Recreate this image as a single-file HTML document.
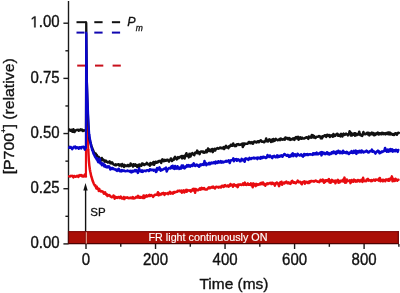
<!DOCTYPE html>
<html><head><meta charset="utf-8"><style>
html,body{margin:0;padding:0;background:#fff;}
svg{display:block;filter:blur(0.3px);}
text{font-family:"Liberation Sans",sans-serif;fill:#111;stroke:#111;stroke-width:0.35px;}
</style></head><body>
<svg width="400" height="293" viewBox="0 0 400 293">
<rect width="400" height="293" fill="#fff"/>
<g stroke="#1a1a1a" stroke-width="1.4" fill="none">
<line x1="68.5" y1="1.0" x2="68.5" y2="243.9"/>
<line x1="63.4" y1="243.90" x2="68.5" y2="243.90"/><line x1="63.4" y1="188.73" x2="68.5" y2="188.73"/><line x1="63.4" y1="133.55" x2="68.5" y2="133.55"/><line x1="63.4" y1="78.38" x2="68.5" y2="78.38"/><line x1="63.4" y1="23.20" x2="68.5" y2="23.20"/><line x1="65.4" y1="216.31" x2="68.5" y2="216.31"/><line x1="65.4" y1="161.14" x2="68.5" y2="161.14"/><line x1="65.4" y1="105.96" x2="68.5" y2="105.96"/><line x1="65.4" y1="50.79" x2="68.5" y2="50.79"/>
<line x1="86.00" y1="243.9" x2="86.00" y2="249"/><line x1="155.53" y1="243.9" x2="155.53" y2="249"/><line x1="225.05" y1="243.9" x2="225.05" y2="249"/><line x1="294.58" y1="243.9" x2="294.58" y2="249"/><line x1="364.10" y1="243.9" x2="364.10" y2="249"/><line x1="120.76" y1="243.9" x2="120.76" y2="246.8"/><line x1="190.29" y1="243.9" x2="190.29" y2="246.8"/><line x1="259.81" y1="243.9" x2="259.81" y2="246.8"/><line x1="329.34" y1="243.9" x2="329.34" y2="246.8"/><line x1="398.87" y1="243.9" x2="398.87" y2="246.8"/>
</g>
<rect x="68" y="231.2" width="330.87" height="12.40" fill="#aa0f07"/>
<line x1="68" y1="231.7" x2="398.87" y2="231.7" stroke="#7a0808" stroke-width="1"/>
<line x1="68" y1="243.6" x2="398.87" y2="243.6" stroke="#4a0202" stroke-width="1.4"/>
<line x1="68.5" y1="231.2" x2="68.5" y2="243.9" stroke="#5a0606" stroke-width="1.2"/>
<line x1="398.27" y1="231.2" x2="398.27" y2="243.9" stroke="#6a0606" stroke-width="1.2"/>
<line x1="85.4" y1="232.2" x2="85.4" y2="243.6" stroke="#7a0808" stroke-width="0.8"/>
<line x1="86.3" y1="232.2" x2="86.3" y2="243.6" stroke="#f0c8b8" stroke-width="0.9"/>
<text x="208" y="240.8" text-anchor="middle" style="font-size:10.75px;fill:#fff;stroke:#fff;stroke-width:0.15px">FR light continuously ON</text>
<line x1="85.6" y1="231.2" x2="85.6" y2="189" stroke="#111" stroke-width="1.4"/>
<path d="M85.5,183 L83.3,190.5 L87.7,190.5 Z" fill="#111"/>
<text x="90.3" y="215.5" style="font-size:11.5px;stroke-width:0.3px">SP</text>
<line x1="77.2" y1="65.6" x2="85.2" y2="65.6" stroke="#c8101c" stroke-width="2"/><line x1="95.0" y1="65.6" x2="103.3" y2="65.6" stroke="#c8101c" stroke-width="2"/><line x1="112.60000000000001" y1="65.6" x2="120.8" y2="65.6" stroke="#c8101c" stroke-width="2"/>
<line x1="76.5" y1="22.2" x2="86.4" y2="22.2" stroke="#111" stroke-width="2"/><line x1="94.3" y1="22.2" x2="102.6" y2="22.2" stroke="#111" stroke-width="2"/><line x1="111.9" y1="22.2" x2="120.1" y2="22.2" stroke="#111" stroke-width="2"/>
<line x1="76.5" y1="32.6" x2="84.5" y2="32.6" stroke="#1006b0" stroke-width="2"/><line x1="94.3" y1="32.6" x2="102.6" y2="32.6" stroke="#1006b0" stroke-width="2"/><line x1="111.9" y1="32.6" x2="120.1" y2="32.6" stroke="#1006b0" stroke-width="2"/>
<g fill="none" stroke-width="2.5" stroke-linejoin="round" stroke-linecap="round">
<polyline points="69.20,176.40 69.80,176.61 70.40,176.21 71.00,175.78 71.60,176.08 72.20,175.71 72.80,176.44 73.40,177.34 74.00,176.06 74.60,175.97 75.20,176.74 75.80,176.65 76.40,176.47 77.00,175.75 77.60,176.38 78.20,176.89 78.80,175.46 79.40,176.08 80.00,175.07 80.60,175.50 81.20,175.11 81.80,176.24 82.40,175.51 83.00,176.59 83.60,176.51 84.20,176.27 84.80,174.64 85.40,176.02 85.90,176.40" stroke="#e80c10"/><polyline points="88.30,150.00 88.80,160.02 89.30,165.33 89.80,169.17 90.30,171.84 90.80,174.16 91.30,176.50 91.80,177.83 92.30,179.62 92.80,181.33 93.30,182.39 93.80,183.68 94.30,184.70 94.80,185.48 95.30,185.25 95.80,186.77 96.30,188.22 96.80,186.70 97.30,188.85 97.80,188.76 98.30,188.64 98.80,190.88 99.30,189.03 99.80,190.65 100.30,191.11 100.90,191.54 101.50,191.01 102.10,191.56 102.70,191.43 103.30,192.49 103.90,193.78 104.50,192.77 105.10,192.26 105.70,193.92 106.30,194.81 106.90,194.40 107.50,196.04 108.10,195.06 108.70,195.45 109.30,195.00 109.90,195.66 110.50,196.59 111.10,196.76 111.70,197.18 112.30,197.00 112.90,196.97 113.50,195.44 114.10,196.36 114.70,198.68 115.30,196.78 115.90,197.67 116.50,197.27 117.10,197.87 117.70,197.53 118.30,196.91 118.90,197.11 119.50,197.90 120.10,197.39 120.70,196.45 121.30,198.14 121.90,198.51 122.50,198.48 123.10,198.53 123.70,196.94 124.30,199.06 124.90,197.89 125.50,197.42 126.10,197.75 126.70,197.59 127.30,197.27 127.90,198.07 128.50,198.20 129.10,197.97 129.70,198.21 130.30,197.99 130.90,197.62 131.50,197.69 132.10,198.36 132.70,197.06 133.30,197.58 133.90,198.48 134.50,197.95 135.10,198.14 135.70,197.65 136.30,196.82 136.90,197.23 137.50,197.49 138.10,195.85 138.70,197.37 139.30,197.76 139.90,196.82 140.50,197.81 141.10,196.98 141.70,197.56 142.30,197.59 142.90,197.94 143.50,195.42 144.10,198.06 144.70,195.88 145.30,197.18 145.90,196.53 146.50,195.31 147.10,196.57 147.70,196.14 148.30,195.63 148.90,196.04 149.50,194.92 150.10,195.94 150.70,195.20 151.30,195.10 151.90,195.83 152.50,195.83 153.10,196.89 153.70,195.98 154.30,195.23 154.90,194.80 155.50,194.94 156.10,194.68 156.70,194.75 157.30,194.17 157.90,192.27 158.50,195.37 159.10,193.52 159.70,195.04 160.30,194.19 160.90,194.10 161.50,194.38 162.10,193.19 162.70,193.37 163.30,192.89 163.90,193.70 164.50,194.85 165.10,193.25 165.70,193.77 166.30,193.62 166.90,193.43 167.50,193.12 168.10,194.07 168.70,193.16 169.30,192.70 169.90,191.74 170.50,193.61 171.10,193.32 171.70,192.91 172.30,192.53 172.90,193.63 173.50,192.44 174.10,191.94 174.70,192.64 175.30,191.95 175.90,192.05 176.50,191.73 177.10,191.76 177.70,190.71 178.30,191.13 178.90,191.11 179.50,190.60 180.10,191.27 180.70,191.55 181.30,190.65 181.90,192.68 182.50,191.06 183.10,191.36 183.70,190.30 184.30,192.46 184.90,191.33 185.50,190.74 186.10,189.87 186.70,191.79 187.30,190.04 187.90,190.28 188.50,190.42 189.10,190.71 189.70,190.41 190.30,190.31 190.90,191.61 191.50,190.26 192.10,190.43 192.70,189.10 193.30,190.51 193.90,188.74 194.50,189.39 195.10,192.81 195.70,188.90 196.30,189.52 196.90,189.66 197.50,190.28 198.10,190.19 198.70,189.72 199.30,189.01 199.90,188.30 200.50,189.70 201.10,189.22 201.70,187.78 202.30,189.05 202.90,188.59 203.50,188.93 204.10,188.06 204.70,188.96 205.30,189.51 205.90,189.43 206.50,189.43 207.10,189.46 207.70,188.39 208.30,187.94 208.90,187.26 209.50,188.30 210.10,187.64 210.70,187.88 211.30,187.26 211.90,187.05 212.50,187.66 213.10,186.54 213.70,187.08 214.30,188.06 214.90,188.43 215.50,187.58 216.10,186.71 216.70,187.05 217.30,187.06 217.90,186.95 218.50,187.62 219.10,186.86 219.70,187.29 220.30,187.10 220.90,187.49 221.50,185.90 222.10,185.82 222.70,186.00 223.30,186.93 223.90,186.78 224.50,185.30 225.10,185.10 225.70,186.12 226.30,186.27 226.90,186.29 227.50,185.48 228.10,185.45 228.70,186.63 229.30,185.39 229.90,185.76 230.50,183.98 231.10,185.14 231.70,185.08 232.30,184.72 232.90,186.68 233.50,185.36 234.10,184.25 234.70,185.48 235.30,185.37 235.90,185.33 236.50,186.21 237.10,185.15 237.70,187.12 238.30,184.40 238.90,185.01 239.50,184.91 240.10,184.33 240.70,184.57 241.30,184.91 241.90,184.93 242.50,184.41 243.10,183.36 243.70,184.89 244.30,184.45 244.90,182.65 245.50,184.75 246.10,184.83 246.70,184.93 247.30,184.30 247.90,183.42 248.50,184.73 249.10,184.80 249.70,184.33 250.30,184.79 250.90,183.41 251.50,185.27 252.10,184.60 252.70,187.19 253.30,183.36 253.90,183.94 254.50,184.11 255.10,185.58 255.70,186.19 256.30,183.84 256.90,184.59 257.50,184.99 258.10,184.23 258.70,184.66 259.30,184.51 259.90,184.46 260.50,183.03 261.10,184.10 261.70,182.91 262.30,183.63 262.90,182.43 263.50,184.58 264.10,183.48 264.70,184.37 265.30,185.74 265.90,184.52 266.50,183.88 267.10,183.24 267.70,184.20 268.30,183.40 268.90,183.61 269.50,183.41 270.10,182.72 270.70,183.23 271.30,184.07 271.90,182.67 272.50,182.82 273.10,183.99 273.70,183.58 274.30,183.93 274.90,185.63 275.50,183.31 276.10,183.62 276.70,182.48 277.30,182.86 277.90,183.23 278.50,184.68 279.10,186.16 279.70,184.09 280.30,182.30 280.90,183.27 281.50,181.77 282.10,184.71 282.70,183.29 283.30,183.18 283.90,182.54 284.50,183.55 285.10,182.21 285.70,182.54 286.30,181.54 286.90,182.36 287.50,183.27 288.10,183.07 288.70,182.38 289.30,183.37 289.90,182.97 290.50,183.83 291.10,182.87 291.70,181.04 292.30,180.78 292.90,182.20 293.50,182.68 294.10,182.18 294.70,182.16 295.30,183.25 295.90,183.16 296.50,182.39 297.10,181.74 297.70,180.64 298.30,181.28 298.90,182.25 299.50,182.26 300.10,181.87 300.70,182.26 301.30,183.64 301.90,184.26 302.50,182.17 303.10,181.98 303.70,181.84 304.30,181.36 304.90,183.68 305.50,181.88 306.10,182.51 306.70,181.83 307.30,182.12 307.90,182.98 308.50,181.91 309.10,182.86 309.70,181.30 310.30,182.20 310.90,181.01 311.50,181.19 312.10,180.97 312.70,181.31 313.30,181.08 313.90,181.71 314.50,181.32 315.10,180.89 315.70,180.54 316.30,180.90 316.90,181.29 317.50,181.78 318.10,181.52 318.70,181.69 319.30,182.09 319.90,181.48 320.50,179.91 321.10,180.94 321.70,179.96 322.30,181.23 322.90,179.63 323.50,181.03 324.10,182.78 324.70,180.44 325.30,181.92 325.90,180.17 326.50,180.30 327.10,180.02 327.70,180.99 328.30,180.16 328.90,179.15 329.50,182.42 330.10,180.56 330.70,182.68 331.30,181.50 331.90,179.91 332.50,180.56 333.10,181.74 333.70,180.77 334.30,181.57 334.90,180.81 335.50,183.35 336.10,180.62 336.70,180.95 337.30,181.12 337.90,179.87 338.50,182.66 339.10,181.04 339.70,182.37 340.30,180.70 340.90,181.44 341.50,181.04 342.10,180.87 342.70,179.76 343.30,181.52 343.90,180.53 344.50,177.62 345.10,182.75 345.70,180.52 346.30,182.46 346.90,179.55 347.50,180.65 348.10,180.85 348.70,180.92 349.30,180.70 349.90,180.20 350.50,183.14 351.10,181.55 351.70,180.02 352.30,180.90 352.90,181.66 353.50,181.66 354.10,179.64 354.70,180.51 355.30,180.27 355.90,181.62 356.50,180.92 357.10,181.44 357.70,180.08 358.30,180.59 358.90,180.03 359.50,181.48 360.10,181.27 360.70,181.00 361.30,179.75 361.90,180.17 362.50,181.92 363.10,177.82 363.70,180.33 364.30,180.94 364.90,181.24 365.50,180.87 366.10,181.13 366.70,179.49 367.30,179.44 367.90,178.84 368.50,180.62 369.10,180.04 369.70,180.15 370.30,180.61 370.90,181.25 371.50,180.13 372.10,180.93 372.70,180.41 373.30,180.29 373.90,179.59 374.50,180.26 375.10,180.75 375.70,179.56 376.30,179.93 376.90,179.61 377.50,179.64 378.10,180.15 378.70,180.60 379.30,178.28 379.90,178.01 380.50,181.19 381.10,180.36 381.70,180.05 382.30,179.73 382.90,181.31 383.50,179.88 384.10,180.28 384.70,180.49 385.30,181.28 385.90,179.49 386.50,179.44 387.10,179.51 387.70,179.84 388.30,180.74 388.90,178.97 389.50,180.61 390.10,179.12 390.70,178.28 391.30,178.36 391.90,176.38 392.50,181.35 393.10,178.70 393.70,180.72 394.30,180.44 394.90,180.99 395.50,178.74 396.10,179.50 396.70,179.94 397.30,180.70 397.90,179.70 398.50,179.82" stroke="#e80c10"/><polyline points="85.90,176.40 86.15,65.20 86.50,66.20 87.00,100.00 87.60,130.00 88.30,150.00" stroke="#e80c10" stroke-width="2.1" stroke-linecap="butt"/>
<polyline points="69.20,129.56 69.80,129.75 70.40,130.75 71.00,130.44 71.60,129.72 72.20,131.63 72.80,131.82 73.40,129.18 74.00,130.41 74.60,131.96 75.20,130.75 75.80,130.35 76.40,130.05 77.00,129.82 77.60,130.05 78.20,129.81 78.80,130.72 79.40,129.92 80.00,129.89 80.60,129.36 81.20,130.17 81.80,129.57 82.40,130.07 83.00,130.93 83.60,130.46 84.20,130.55 84.80,130.45 85.40,130.24 85.90,130.20" stroke="#111"/><polyline points="89.20,138.00 89.70,139.85 90.20,141.86 90.70,143.22 91.20,145.40 91.70,146.67 92.20,147.88 92.70,149.26 93.20,150.49 93.70,151.85 94.20,152.72 94.70,154.00 95.20,154.30 95.70,153.49 96.20,155.13 96.70,154.75 97.20,156.61 97.70,157.81 98.20,157.93 98.70,156.91 99.20,157.66 99.70,159.76 100.20,158.82 100.70,160.82 101.20,159.46 101.80,158.01 102.40,159.26 103.00,160.24 103.60,159.83 104.20,160.55 104.80,161.65 105.40,160.60 106.00,160.79 106.60,161.74 107.20,161.71 107.80,162.57 108.40,162.29 109.00,161.88 109.60,161.35 110.20,163.21 110.80,162.66 111.40,163.38 112.00,162.24 112.60,163.11 113.20,164.03 113.80,164.65 114.40,164.81 115.00,165.10 115.60,164.33 116.20,165.13 116.80,164.80 117.40,164.49 118.00,164.43 118.60,164.28 119.20,165.58 119.80,164.94 120.40,164.43 121.00,164.86 121.60,166.28 122.20,164.03 122.80,165.51 123.40,165.27 124.00,166.95 124.60,164.90 125.20,165.60 125.80,166.01 126.40,166.12 127.00,166.08 127.60,164.92 128.20,164.94 128.80,166.21 129.40,165.35 130.00,165.94 130.60,163.48 131.20,164.87 131.80,165.32 132.40,164.83 133.00,166.57 133.60,164.27 134.20,165.41 134.80,165.64 135.40,164.41 136.00,165.57 136.60,165.23 137.20,166.94 137.80,165.90 138.40,164.81 139.00,167.49 139.60,164.45 140.20,165.19 140.80,165.04 141.40,165.76 142.00,163.61 142.60,163.59 143.20,163.94 143.80,164.88 144.40,165.10 145.00,164.18 145.60,164.37 146.20,164.15 146.80,162.89 147.40,163.37 148.00,164.50 148.60,164.37 149.20,164.51 149.80,165.78 150.40,163.02 151.00,164.54 151.60,163.54 152.20,164.27 152.80,163.19 153.40,161.93 154.00,164.85 154.60,163.73 155.20,162.04 155.80,161.74 156.40,162.67 157.00,162.64 157.60,161.69 158.20,162.13 158.80,161.04 159.40,161.48 160.00,160.74 160.60,161.68 161.20,162.82 161.80,160.81 162.40,159.35 163.00,160.21 163.60,161.12 164.20,159.80 164.80,161.00 165.40,160.05 166.00,160.78 166.60,160.03 167.20,159.72 167.80,159.80 168.40,160.97 169.00,161.57 169.60,160.28 170.20,160.17 170.80,158.54 171.40,158.72 172.00,161.07 172.60,160.23 173.20,159.86 173.80,159.78 174.40,157.72 175.00,156.88 175.60,158.36 176.20,158.04 176.80,159.37 177.40,157.85 178.00,157.19 178.60,158.23 179.20,157.26 179.80,157.39 180.40,156.64 181.00,156.40 181.60,156.01 182.20,158.39 182.80,156.09 183.40,157.58 184.00,156.06 184.60,158.49 185.20,155.59 185.80,154.64 186.40,153.25 187.00,155.87 187.60,154.83 188.20,155.77 188.80,157.39 189.40,153.88 190.00,154.32 190.60,156.47 191.20,153.73 191.80,154.14 192.40,153.08 193.00,154.28 193.60,154.63 194.20,155.27 194.80,153.64 195.40,152.42 196.00,152.48 196.60,152.94 197.20,150.59 197.80,153.15 198.40,151.91 199.00,152.34 199.60,154.14 200.20,152.14 200.80,151.44 201.40,151.42 202.00,151.55 202.60,152.24 203.20,151.48 203.80,152.68 204.40,152.68 205.00,152.38 205.60,151.75 206.20,150.30 206.80,152.26 207.40,151.51 208.00,148.41 208.60,150.35 209.20,150.80 209.80,149.58 210.40,151.32 211.00,150.13 211.60,150.67 212.20,148.96 212.80,152.13 213.40,150.63 214.00,149.70 214.60,148.79 215.20,150.55 215.80,149.06 216.40,148.89 217.00,148.41 217.60,148.02 218.20,148.69 218.80,148.61 219.40,148.15 220.00,147.51 220.60,147.78 221.20,148.26 221.80,147.84 222.40,148.42 223.00,147.65 223.60,147.07 224.20,149.01 224.80,147.70 225.40,146.64 226.00,145.79 226.60,147.46 227.20,147.04 227.80,147.12 228.40,148.07 229.00,146.17 229.60,146.61 230.20,146.26 230.80,144.69 231.40,145.79 232.00,144.71 232.60,145.76 233.20,143.47 233.80,145.42 234.40,144.97 235.00,146.14 235.60,145.05 236.20,145.92 236.80,144.47 237.40,144.18 238.00,144.26 238.60,144.12 239.20,144.95 239.80,144.66 240.40,144.70 241.00,144.32 241.60,144.47 242.20,143.59 242.80,147.01 243.40,143.40 244.00,145.42 244.60,143.43 245.20,143.60 245.80,143.75 246.40,143.68 247.00,143.64 247.60,143.82 248.20,143.10 248.80,141.95 249.40,142.94 250.00,142.13 250.60,143.14 251.20,142.60 251.80,142.19 252.40,143.53 253.00,143.69 253.60,142.23 254.20,141.44 254.80,141.49 255.40,142.09 256.00,142.31 256.60,142.51 257.20,141.63 257.80,141.21 258.40,141.24 259.00,142.28 259.60,141.10 260.20,141.08 260.80,140.22 261.40,141.23 262.00,141.74 262.60,141.67 263.20,141.45 263.80,142.15 264.40,142.22 265.00,141.20 265.60,140.86 266.20,138.42 266.80,141.11 267.40,140.78 268.00,141.52 268.60,140.24 269.20,139.35 269.80,140.40 270.40,139.85 271.00,142.00 271.60,139.87 272.20,139.58 272.80,141.44 273.40,138.96 274.00,140.88 274.60,140.84 275.20,139.85 275.80,138.91 276.40,139.37 277.00,139.82 277.60,140.27 278.20,139.98 278.80,139.84 279.40,139.17 280.00,140.16 280.60,138.61 281.20,138.80 281.80,139.34 282.40,139.70 283.00,139.44 283.60,139.42 284.20,138.66 284.80,139.64 285.40,137.43 286.00,138.39 286.60,137.88 287.20,138.01 287.80,139.04 288.40,139.27 289.00,137.96 289.60,138.62 290.20,139.93 290.80,138.77 291.40,139.56 292.00,139.24 292.60,139.29 293.20,138.22 293.80,138.67 294.40,139.98 295.00,137.81 295.60,137.52 296.20,137.01 296.80,138.40 297.40,137.55 298.00,136.77 298.60,139.77 299.20,138.53 299.80,137.62 300.40,137.21 301.00,138.75 301.60,138.67 302.20,137.69 302.80,138.57 303.40,138.59 304.00,138.60 304.60,138.21 305.20,137.94 305.80,137.78 306.40,137.21 307.00,137.45 307.60,137.42 308.20,138.86 308.80,136.49 309.40,137.12 310.00,137.44 310.60,136.56 311.20,137.68 311.80,135.02 312.40,137.12 313.00,135.46 313.60,137.43 314.20,136.07 314.80,137.15 315.40,137.91 316.00,137.45 316.60,136.80 317.20,136.80 317.80,136.85 318.40,136.52 319.00,136.05 319.60,136.59 320.20,136.48 320.80,138.29 321.40,136.88 322.00,138.35 322.60,136.31 323.20,136.60 323.80,136.26 324.40,135.44 325.00,135.28 325.60,135.81 326.20,136.85 326.80,135.01 327.40,134.70 328.00,135.77 328.60,135.20 329.20,135.08 329.80,137.00 330.40,135.52 331.00,135.99 331.60,135.37 332.20,136.05 332.80,136.75 333.40,133.98 334.00,135.54 334.60,136.10 335.20,135.92 335.80,134.50 336.40,134.54 337.00,133.67 337.60,133.90 338.20,135.79 338.80,134.89 339.40,135.64 340.00,134.94 340.60,136.41 341.20,133.89 341.80,135.46 342.40,136.42 343.00,134.33 343.60,133.66 344.20,134.90 344.80,134.83 345.40,134.15 346.00,133.62 346.60,134.39 347.20,134.55 347.80,135.37 348.40,134.23 349.00,133.97 349.60,131.24 350.20,132.37 350.80,135.58 351.40,133.07 352.00,135.45 352.60,134.85 353.20,134.04 353.80,134.56 354.40,133.21 355.00,135.69 355.60,133.34 356.20,133.94 356.80,135.20 357.40,134.06 358.00,134.58 358.60,134.53 359.20,131.65 359.80,134.01 360.40,135.14 361.00,134.83 361.60,135.61 362.20,135.93 362.80,134.05 363.40,132.05 364.00,134.22 364.60,133.53 365.20,134.19 365.80,134.20 366.40,133.48 367.00,132.81 367.60,132.80 368.20,134.46 368.80,132.89 369.40,135.37 370.00,133.56 370.60,134.07 371.20,133.24 371.80,132.61 372.40,134.37 373.00,132.99 373.60,133.49 374.20,135.24 374.80,133.52 375.40,134.90 376.00,134.39 376.60,133.20 377.20,133.47 377.80,132.50 378.40,134.48 379.00,134.43 379.60,133.32 380.20,133.20 380.80,134.05 381.40,134.27 382.00,132.70 382.60,133.61 383.20,134.07 383.80,133.04 384.40,134.01 385.00,133.43 385.60,134.33 386.20,132.95 386.80,133.18 387.40,133.96 388.00,132.54 388.60,132.58 389.20,134.41 389.80,132.58 390.40,133.00 391.00,134.40 391.60,133.81 392.20,133.89 392.80,134.73 393.40,134.15 394.00,134.97 394.60,134.52 395.20,133.15 395.80,133.26 396.40,133.83 397.00,134.65 397.60,133.18 398.20,132.71 398.80,132.92" stroke="#111"/><polyline points="85.90,130.20 86.15,22.20 86.35,23.20 86.90,80.00 87.60,105.00 88.40,125.00 89.20,138.00" stroke="#111" stroke-width="2.1" stroke-linecap="butt"/>
<polyline points="69.20,147.68 69.80,146.81 70.40,147.61 71.00,147.17 71.60,147.91 72.20,149.11 72.80,148.24 73.40,147.58 74.00,146.66 74.60,146.81 75.20,146.62 75.80,148.31 76.40,147.26 77.00,147.84 77.60,147.36 78.20,147.86 78.80,148.78 79.40,147.32 80.00,147.56 80.60,147.24 81.20,148.41 81.80,147.08 82.40,147.01 83.00,146.83 83.60,146.81 84.20,148.13 84.80,149.60 85.40,147.10 85.90,147.80" stroke="#0a06cc"/><polyline points="89.30,135.00 89.80,138.80 90.30,141.43 90.80,144.13 91.30,146.36 91.80,148.18 92.30,150.37 92.80,151.07 93.30,152.94 93.80,154.18 94.30,155.09 94.80,156.20 95.30,157.16 95.80,157.82 96.30,158.69 96.80,159.51 97.30,158.19 97.80,161.19 98.30,162.26 98.80,161.83 99.30,162.31 99.80,159.10 100.30,163.42 100.80,163.51 101.30,163.11 101.90,165.25 102.50,163.51 103.10,163.54 103.70,164.18 104.30,166.57 104.90,164.94 105.50,166.53 106.10,167.14 106.70,166.51 107.30,167.31 107.90,166.36 108.50,167.12 109.10,166.42 109.70,167.23 110.30,169.48 110.90,169.14 111.50,168.45 112.10,167.94 112.70,168.96 113.30,168.33 113.90,169.06 114.50,169.41 115.10,169.66 115.70,169.26 116.30,170.39 116.90,170.90 117.50,169.84 118.10,170.35 118.70,168.75 119.30,169.60 119.90,171.19 120.50,171.14 121.10,171.41 121.70,170.12 122.30,170.21 122.90,170.92 123.50,170.47 124.10,170.57 124.70,171.03 125.30,171.18 125.90,171.24 126.50,170.96 127.10,170.74 127.70,170.50 128.30,171.16 128.90,171.01 129.50,171.08 130.10,171.78 130.70,170.72 131.30,172.35 131.90,170.97 132.50,171.92 133.10,170.86 133.70,171.39 134.30,170.96 134.90,170.12 135.50,171.30 136.10,170.17 136.70,170.73 137.30,171.56 137.90,172.88 138.50,170.45 139.10,168.42 139.70,170.69 140.30,171.22 140.90,170.91 141.50,171.75 142.10,170.40 142.70,171.83 143.30,171.20 143.90,170.78 144.50,170.69 145.10,170.98 145.70,171.19 146.30,170.36 146.90,170.24 147.50,170.33 148.10,170.22 148.70,171.10 149.30,170.92 149.90,169.26 150.50,170.02 151.10,169.52 151.70,170.15 152.30,169.98 152.90,169.71 153.50,170.60 154.10,169.82 154.70,170.20 155.30,169.84 155.90,172.04 156.50,171.66 157.10,168.02 157.70,169.25 158.30,169.49 158.90,169.44 159.50,167.40 160.10,169.29 160.70,170.75 161.30,169.49 161.90,169.94 162.50,169.92 163.10,169.27 163.70,169.24 164.30,168.42 164.90,168.44 165.50,168.90 166.10,167.63 166.70,171.52 167.30,170.01 167.90,169.37 168.50,168.89 169.10,168.04 169.70,167.91 170.30,168.37 170.90,167.66 171.50,166.38 172.10,167.90 172.70,165.73 173.30,168.19 173.90,168.61 174.50,168.84 175.10,166.07 175.70,168.59 176.30,168.48 176.90,168.67 177.50,166.27 178.10,167.72 178.70,167.43 179.30,168.95 179.90,167.50 180.50,167.69 181.10,168.57 181.70,165.56 182.30,166.80 182.90,165.45 183.50,168.03 184.10,167.59 184.70,168.32 185.30,166.46 185.90,166.87 186.50,166.91 187.10,165.07 187.70,166.00 188.30,166.40 188.90,165.13 189.50,165.63 190.10,166.70 190.70,166.17 191.30,164.99 191.90,165.00 192.50,165.90 193.10,164.56 193.70,163.29 194.30,164.76 194.90,165.76 195.50,165.98 196.10,164.88 196.70,164.49 197.30,164.82 197.90,165.91 198.50,165.91 199.10,166.78 199.70,164.81 200.30,165.48 200.90,164.28 201.50,165.13 202.10,164.92 202.70,164.07 203.30,163.72 203.90,164.92 204.50,161.02 205.10,164.36 205.70,162.90 206.30,165.18 206.90,164.03 207.50,164.26 208.10,163.53 208.70,164.25 209.30,162.81 209.90,164.33 210.50,163.06 211.10,163.49 211.70,162.46 212.30,163.15 212.90,163.32 213.50,162.79 214.10,161.99 214.70,163.18 215.30,163.53 215.90,161.61 216.50,162.87 217.10,162.87 217.70,162.89 218.30,161.17 218.90,162.33 219.50,162.38 220.10,162.08 220.70,161.06 221.30,162.68 221.90,161.94 222.50,161.61 223.10,162.49 223.70,161.69 224.30,162.00 224.90,161.73 225.50,161.50 226.10,160.72 226.70,161.66 227.30,161.42 227.90,161.28 228.50,160.31 229.10,160.63 229.70,163.00 230.30,161.25 230.90,160.25 231.50,160.29 232.10,160.15 232.70,159.87 233.30,158.37 233.90,161.20 234.50,160.19 235.10,159.37 235.70,159.40 236.30,158.96 236.90,160.74 237.50,159.82 238.10,159.38 238.70,159.70 239.30,160.31 239.90,161.26 240.50,161.26 241.10,160.23 241.70,158.81 242.30,160.16 242.90,160.45 243.50,159.65 244.10,159.91 244.70,161.84 245.30,158.66 245.90,158.36 246.50,159.01 247.10,158.82 247.70,158.90 248.30,160.02 248.90,159.04 249.50,157.86 250.10,158.55 250.70,159.08 251.30,158.92 251.90,158.00 252.50,158.28 253.10,158.12 253.70,157.65 254.30,158.39 254.90,157.94 255.50,158.18 256.10,158.30 256.70,157.74 257.30,159.12 257.90,157.52 258.50,158.12 259.10,157.82 259.70,157.96 260.30,158.77 260.90,157.09 261.50,158.26 262.10,156.97 262.70,158.01 263.30,156.75 263.90,157.38 264.50,157.02 265.10,157.15 265.70,158.04 266.30,158.07 266.90,157.29 267.50,155.02 268.10,156.43 268.70,156.17 269.30,157.04 269.90,155.51 270.50,156.36 271.10,156.53 271.70,157.50 272.30,158.07 272.90,156.29 273.50,156.45 274.10,155.74 274.70,156.57 275.30,157.34 275.90,157.22 276.50,156.40 277.10,155.43 277.70,157.24 278.30,156.72 278.90,155.86 279.50,156.73 280.10,155.81 280.70,156.30 281.30,155.26 281.90,155.97 282.50,156.76 283.10,155.61 283.70,154.87 284.30,154.00 284.90,154.20 285.50,154.91 286.10,155.31 286.70,155.84 287.30,155.62 287.90,154.91 288.50,155.40 289.10,156.92 289.70,155.51 290.30,156.55 290.90,156.25 291.50,154.64 292.10,153.94 292.70,153.25 293.30,156.13 293.90,154.85 294.50,154.35 295.10,154.16 295.70,155.61 296.30,156.31 296.90,155.67 297.50,153.77 298.10,154.26 298.70,154.83 299.30,155.43 299.90,155.41 300.50,155.30 301.10,154.32 301.70,155.06 302.30,156.11 302.90,156.61 303.50,155.61 304.10,153.97 304.70,155.49 305.30,154.35 305.90,154.21 306.50,154.14 307.10,155.04 307.70,154.01 308.30,154.89 308.90,154.36 309.50,154.26 310.10,154.51 310.70,154.25 311.30,154.60 311.90,154.29 312.50,154.83 313.10,153.21 313.70,154.44 314.30,154.37 314.90,153.18 315.50,154.14 316.10,154.17 316.70,152.60 317.30,154.32 317.90,153.64 318.50,154.20 319.10,153.54 319.70,152.85 320.30,153.58 320.90,152.38 321.50,155.39 322.10,152.13 322.70,154.10 323.30,152.58 323.90,152.84 324.50,152.98 325.10,154.11 325.70,153.44 326.30,153.51 326.90,152.19 327.50,154.07 328.10,153.11 328.70,152.92 329.30,154.54 329.90,154.07 330.50,153.29 331.10,153.88 331.70,152.18 332.30,153.02 332.90,153.29 333.50,151.45 334.10,152.95 334.70,152.01 335.30,152.87 335.90,153.91 336.50,151.56 337.10,153.01 337.70,152.85 338.30,150.81 338.90,151.29 339.50,152.35 340.10,153.10 340.70,151.58 341.30,152.93 341.90,152.67 342.50,153.19 343.10,150.67 343.70,151.58 344.30,152.76 344.90,152.37 345.50,152.27 346.10,153.19 346.70,151.86 347.30,152.14 347.90,152.68 348.50,153.92 349.10,153.89 349.70,152.84 350.30,152.31 350.90,152.76 351.50,151.15 352.10,152.74 352.70,153.00 353.30,152.08 353.90,150.86 354.50,152.68 355.10,151.65 355.70,150.64 356.30,153.88 356.90,151.43 357.50,151.30 358.10,152.57 358.70,151.92 359.30,150.87 359.90,152.13 360.50,151.11 361.10,152.51 361.70,150.49 362.30,151.76 362.90,151.56 363.50,152.47 364.10,151.60 364.70,152.02 365.30,151.57 365.90,151.20 366.50,150.58 367.10,151.82 367.70,151.46 368.30,152.55 368.90,152.40 369.50,151.77 370.10,150.92 370.70,151.07 371.30,151.10 371.90,149.59 372.50,151.81 373.10,151.08 373.70,151.18 374.30,152.08 374.90,152.69 375.50,153.58 376.10,152.01 376.70,151.62 377.30,151.10 377.90,150.56 378.50,152.19 379.10,151.39 379.70,153.31 380.30,152.01 380.90,152.62 381.50,152.43 382.10,151.30 382.70,151.75 383.30,151.21 383.90,151.33 384.50,150.09 385.10,147.95 385.70,150.78 386.30,150.87 386.90,151.80 387.50,149.59 388.10,150.63 388.70,151.64 389.30,149.56 389.90,149.82 390.50,149.05 391.10,151.17 391.70,151.00 392.30,149.33 392.90,151.61 393.50,150.20 394.10,150.32 394.70,151.02 395.30,151.30 395.90,149.78 396.50,150.83 397.10,150.53 397.70,151.86 398.30,149.97" stroke="#0a06cc"/><polyline points="85.90,147.80 86.15,32.50 86.35,33.50 86.90,80.00 87.60,100.00 88.40,120.00 89.30,135.00" stroke="#0a06cc" stroke-width="2.1" stroke-linecap="butt"/>
</g>
<g style="font-size:15px">
<text transform="translate(59.6,248.05) scale(1,1.06)" text-anchor="end">0.00</text><text transform="translate(59.6,192.88) scale(1,1.06)" text-anchor="end">0.25</text><text transform="translate(59.6,137.70) scale(1,1.06)" text-anchor="end">0.50</text><text transform="translate(59.6,82.53) scale(1,1.06)" text-anchor="end">0.75</text><text transform="translate(59.6,27.35) scale(1,1.06)" text-anchor="end">.00</text><path transform="translate(30.406,27.35) scale(0.007324,-0.007764)" d="M530 0H696V1409H530L197 1180V1010L530 1237Z" fill="#111" stroke="#111" stroke-width="48"/>
<text transform="translate(86.00,264.5) scale(1,1.06)" text-anchor="middle">0</text><text transform="translate(155.53,264.5) scale(1,1.06)" text-anchor="middle">200</text><text transform="translate(225.05,264.5) scale(1,1.06)" text-anchor="middle">400</text><text transform="translate(294.58,264.5) scale(1,1.06)" text-anchor="middle">600</text><text transform="translate(364.10,264.5) scale(1,1.06)" text-anchor="middle">800</text>
</g>
<text x="234" y="288.8" text-anchor="middle" textLength="69" lengthAdjust="spacingAndGlyphs" style="font-size:14.6px">Time (ms)</text>
<text transform="translate(14.3,116.3) rotate(-90) scale(1.027,1)" text-anchor="middle" style="font-size:15.4px">[P700<tspan dy="-8" style="font-size:7.5px">+</tspan><tspan dy="8">] (relative)</tspan></text>
<text x="127.2" y="26.4" style="font-size:12.5px;font-style:italic;stroke-width:0.3px">P<tspan dx="0.2" dy="4.3" style="font-size:8.5px">m</tspan></text>
</svg>
</body></html>
